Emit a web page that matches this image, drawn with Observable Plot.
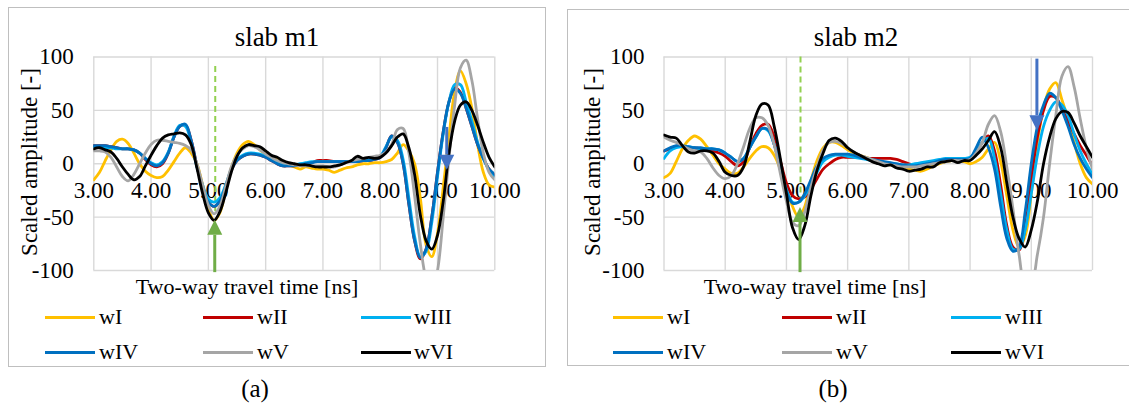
<!DOCTYPE html>
<html><head><meta charset="utf-8">
<script src="https://cdn.jsdelivr.net/npm/d3@7"></script>
<script src="https://cdn.jsdelivr.net/npm/@observablehq/plot@0.6"></script>
<style>
body{margin:0;background:#fff;}
#page{position:relative;width:1129px;height:403px;overflow:hidden;background:#fff;font-family:"Liberation Serif","Times New Roman",serif;color:#000;}
.abs{position:absolute;white-space:nowrap;line-height:1;}
.c{transform:translate(-50%,-50%);}
.frame{position:absolute;border:1px solid #bfbfbf;box-sizing:border-box;}
.lg{position:absolute;height:3px;}
.lt{position:absolute;white-space:nowrap;line-height:1;transform:translateY(-50%);font-size:22px;}
</style></head><body><div id="page"></div>
<script>
// ---------- data ----------
const times = [3.0,3.1,3.2,3.3,3.4,3.5,3.6,3.7,3.8,3.9,4.0,4.1,4.2,4.3,4.4,4.5,4.6,4.7,4.8,4.9,5.0,5.1,5.2,5.3,5.4,5.5,5.6,5.7,5.8,5.9,6.0,6.1,6.2,6.3,6.4,6.5,6.6,6.7,6.8,6.9,7.0,7.1,7.2,7.3,7.4,7.5,7.6,7.7,7.8,7.9,8.0,8.1,8.2,8.3,8.4,8.5,8.6,8.7,8.8,8.9,9.0,9.1,9.2,9.3,9.4,9.5,9.6,9.7,9.8,9.9,10.0];
const seriesNames = ["wI","wII","wIII","wIV","wV","wVI"];
const seriesColors = ["#FFC000","#C00000","#00B0F0","#0070C0","#A5A5A5","#000000"];
const xTicks = [3,4,5,6,7,8,9,10];
const yTicks = [-100,-50,0,50,100];
const panelTitles = ["slab m1","slab m2"];
const panelCaptions = ["(a)","(b)"];
const xTitle = "Two-way travel time [ns]";
const yTitle = "Scaled amplitude [-]";

// slab m1
const m1_wI  = [-15,-8,3,13,21,23,19,10,0,-7, -11,-13,-12,-6,2,10,15,10,0,-20, -42,-53,-46,-25,-4,10,18,21,18,13, 9,6,4,2,-1,-3,-5,-3,-4,-5, -5,-6,-8,-6,-4,-3,-1,0,0,1, 1,2,4,10,18,12,0,-32,-76,-87, -65,-22,25,68,87,75,52,18,-8,-20,-22];
const m1_wII = [17,17,17,16,15,14,14,13,10,4, -1,-3,0,10,25,35,36,22,-2,-22, -36,-40,-35,-22,-6,3,7,9,9,8, 6,3,0,-2,-2,-2,-1,0,1,3, 3,3,2,2,2,2,2,3,3,4, 6,15,26,20,0,-38,-72,-89,-80,-50, -8,30,58,71,67,52,35,18,5,-5,-11];
const m1_wIII= [16,16,15,15,14,14,14,13,10,5, 1,-1,2,11,26,36,35,20,-3,-20, -33,-36,-32,-20,-5,4,8,10,10,9, 7,4,1,-1,-1,-1,0,1,2,2, 2,2,2,2,2,2,3,3,4,5, 7,16,25,22,4,-32,-68,-87,-82,-55, -12,28,58,74,74,58,40,20,5,-6,-12];
const m1_wIV = [17,17,17,16,15,14,14,13,10,5, 0,-2,1,10,25,35,37,22,-2,-22, -36,-40,-35,-22,-6,3,7,9,9,8, 6,3,0,-2,-2,-2,-1,0,1,2, 2,2,2,2,2,2,2,3,3,4, 6,15,26,20,0,-38,-72,-88,-80,-50, -8,30,58,70,66,52,35,18,5,-5,-10];
const m1_wV  = [12,12,11,6,-3,-12,-16,-10,0,10, 18,22,22,21,20,19,17,13,0,-20, -39,-47,-40,-22,-3,8,14,17,16,13, 9,6,3,1,0,-1,-2,-2,-2,-2, -2,-3,-3,-1,1,3,4,5,6,7, 8,11,18,32,33,10,-30,-75,-108,-120, -100,-50,5,55,90,97,78,42,10,-8,-15];
const m1_wVI = [14,15,13,11,5,-3,-10,-15,-12,-2, 8,17,24,27,28,29,27,18,-4,-28, -46,-53,-45,-28,-8,7,15,18,17,16, 12,8,6,3,1,0,-1,-1,-2,-3, -3,-3,-2,-1,1,3,7,5,6,5, 6,10,17,25,28,15,-10,-48,-72,-80, -67,-35,10,40,55,58,50,36,20,6,-3];

// slab m2
const m2_wI  = [-13,-9,2,14,22,26,23,16,8,0, -5,-9,-9,-3,5,12,16,15,8,-5, -22,-40,-50,-40,-16,3,15,20,20,17, 13,10,8,6,4,2,0,-1,-2,-4, -5,-6,-7,-5,-2,0,2,3,3,2, 0,2,6,14,20,2,-30,-62,-78,-68, -28,20,52,70,76,60,42,20,0,-13,-19];
const m2_wII = [12,14,16,16,15,15,14,13,12,10, 7,2,-2,2,15,28,36,37,25,3, -18,-30,-33,-31,-24,-14,-5,0,4,6, 6,6,6,5,5,5,5,5,4,2, 0,-1,-1,0,1,2,3,3,3,3, 4,10,20,26,12,-20,-58,-78,-81,-60, -15,25,50,63,62,52,40,28,17,8,-2];
const m2_wIII= [5,12,15,16,16,15,14,14,14,13, 10,6,2,5,15,25,33,31,18,-3, -24,-36,-36,-30,-19,-8,2,6,8,8, 7,6,5,4,3,2,1,0,-1,-1, -1,0,1,2,3,4,5,5,5,5, 6,12,20,24,5,-28,-62,-80,-80,-62, -28,8,35,50,58,55,45,28,12,0,-10];
const m2_wIV = [12,15,17,17,16,15,15,14,14,13, 10,6,2,5,15,25,33,32,18,-4, -26,-37,-36,-28,-15,-2,5,8,9,9, 9,8,6,5,4,3,2,1,0,-1, -2,-2,-1,0,1,3,4,4,4,4, 5,15,25,15,-5,-40,-70,-82,-78,-45, 0,35,55,66,62,50,35,18,5,-5,-13];
const m2_wV  = [25,22,20,17,14,12,11,5,-4,-11, -14,-11,0,16,33,43,43,36,18,-9, -35,-55,-58,-45,-22,-3,13,20,21,19, 15,11,8,6,4,2,0,-1,-2,-3, -3,-3,-2,-1,0,1,2,3,3,3, 4,10,20,37,45,30,-3,-42,-85,-113, -112,-85,-50,0,45,82,91,72,42,15,-5];
const m2_wVI = [27,25,24,17,11,10,12,12,10,2, -8,-11,-11,-3,20,45,56,55,35,5, -28,-60,-71,-58,-30,-6,10,22,24,21, 15,11,8,5,2,0,-2,-1,-4,-5, -7,-6,-5,-3,-3,1,2,3,1,3, 3,8,14,22,30,15,-18,-50,-70,-78, -62,-35,0,25,42,49,48,38,26,16,6];

// marked events (time, start value, tip value)
const m1Arrows = [{kind:"green", t:5.12, from:-102, tip:-53}, {kind:"blue", t:9.17, from:34, tip:-6}];
const m2Arrows = [{kind:"green", t:5.23, from:-102, tip:-41}, {kind:"blue", t:9.10, from:98, tip:31}];
const m1Dashed = [{t:5.12, from:91, to:-45}];
const m2Dashed = [{t:5.23, from:100, to:-38}];

// ---------- styling / layout ----------
const arrowColor = {green:"#70AD47", blue:"#4472C4"};
const FONT = "Liberation Serif, Times New Roman, serif";
const panels = [
  {series:[m1_wI,m1_wII,m1_wIII,m1_wIV,m1_wV,m1_wVI], arrows:m1Arrows, dashed:m1Dashed,
   frame:{left:8,top:7,width:538,height:360}, svgLeft:0, svgWidth:560, plotLeft:93.3, plotRight:494.3,
   titleX:277, xTitleX:247, yTitleX:29, legendX:[[45,99],[203,257],[361,414]], captionX:255, tickPad:20},
  {series:[m2_wI,m2_wII,m2_wIII,m2_wIV,m2_wV,m2_wVI], arrows:m2Arrows, dashed:m2Dashed,
   frame:{left:567,top:9,width:620,height:357}, svgLeft:567, svgWidth:562, plotLeft:663.5, plotRight:1092,
   titleX:856, xTitleX:815, yTitleX:592, legendX:[[613,667],[782,836],[951,1005]], captionX:833, tickPad:19.5}
];
const PLOT_TOP = 56.5, PLOT_BOTTOM = 270, SVG_H = 300;

const page = document.getElementById("page");
function addText(txt, x, y, size, extra) {
  const d = document.createElement("div");
  d.className = "abs c";
  d.textContent = txt;
  d.style.left = x + "px"; d.style.top = y + "px"; d.style.fontSize = size + "px";
  if (extra) d.style.transform = extra;
  page.appendChild(d);
  return d;
}

function arrowMark(list) {
  return (index, scales) => {
    const g = d3.create("svg:g");
    for (const a of list) {
      const x = scales.x(a.t), yTip = scales.y(a.tip), yFrom = scales.y(a.from);
      const dir = yFrom > yTip ? 1 : -1;
      const h = 15, w = 15;
      const yBase = yTip + dir * h;
      g.append("line").attr("x1", x).attr("x2", x).attr("y1", yFrom).attr("y2", yBase)
        .attr("stroke", arrowColor[a.kind]).attr("stroke-width", 3);
      g.append("polygon").attr("points", `${x},${yTip} ${x - w/2},${yBase} ${x + w/2},${yBase}`)
        .attr("fill", arrowColor[a.kind]);
    }
    return g.node();
  };
}

panels.forEach((p, pi) => {
  const fr = document.createElement("div");
  fr.className = "frame";
  Object.assign(fr.style, {left:p.frame.left+"px", top:p.frame.top+"px", width:p.frame.width+"px", height:p.frame.height+"px"});
  page.appendChild(fr);

  const rows = [];
  p.series.forEach((vals, si) => vals.forEach((v, i) => rows.push({t: times[i], v, s: seriesNames[si]})));

  const chart = Plot.plot({
    width: p.svgWidth, height: SVG_H,
    marginLeft: p.plotLeft - p.svgLeft, marginRight: p.svgLeft + p.svgWidth - p.plotRight,
    marginTop: PLOT_TOP, marginBottom: SVG_H - PLOT_BOTTOM,
    x: {domain: [3, 10], axis: null},
    y: {domain: [-100, 100]},
    color: {domain: seriesNames, range: seriesColors},
    style: {fontFamily: FONT, fontSize: "23px", background: "transparent", overflow: "visible", color: "#000"},
    marks: [
      Plot.ruleX(xTicks, {x: d => d, stroke: "#d9d9d9", strokeWidth: 1.4}),
      Plot.ruleY(yTicks, {y: d => d, stroke: "#d9d9d9", strokeWidth: 1.4}),
      Plot.axisY({ticks: yTicks, tickSize: 0, tickPadding: p.tickPad, tickFormat: d => String(d), label: null, fontSize: 23, fill: "#000"}),
      Plot.text(xTicks, {x: d => d, y: xTicks.map(() => 0), text: d => d.toFixed(2), dy: 27, fontSize: 23, fill: "#000"}),
      Plot.ruleX(p.dashed, {x: "t", y1: "from", y2: "to", stroke: "#92D050", strokeWidth: 2, strokeDasharray: "6,4"}),
      Plot.line(rows, {x: "t", y: "v", z: "s", stroke: "s", strokeWidth: 2.8, curve: "catmull-rom", clip: true}),
      arrowMark(p.arrows)
    ]
  });
  chart.style.position = "absolute";
  chart.style.left = p.svgLeft + "px";
  chart.style.top = "0px";
  page.appendChild(chart);

  addText(panelTitles[pi], p.titleX, 37, 27);
  addText(xTitle, p.xTitleX, 287, 22);
  addText(yTitle, p.yTitleX, 162, 23, "translate(-50%,-50%) rotate(-90deg)");
  addText(panelCaptions[pi], p.captionX, 388, 25);

  seriesNames.forEach((name, si) => {
    const col = si % 3, row = Math.floor(si / 3);
    const y = row === 0 ? 317 : 352;
    const [lx, tx] = p.legendX[col];
    const ln = document.createElement("div");
    ln.className = "lg";
    Object.assign(ln.style, {left: lx + "px", top: (y - 1.5) + "px", width: "50px", background: seriesColors[si]});
    page.appendChild(ln);
    const t = document.createElement("div");
    t.className = "lt";
    t.textContent = name;
    t.style.left = tx + "px"; t.style.top = y + "px";
    page.appendChild(t);
  });
});
</script></body></html>
